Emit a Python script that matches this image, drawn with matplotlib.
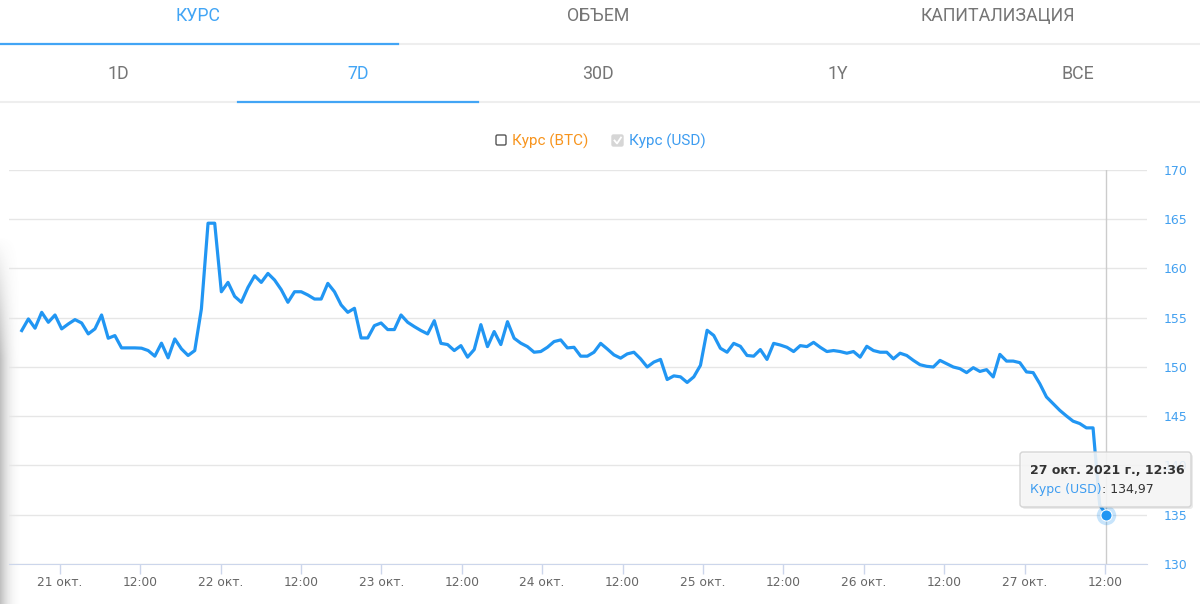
import numpy as np
import pandas as pd
import matplotlib.pyplot as plt
from matplotlib.patches import FancyBboxPatch
from matplotlib.lines import Line2D

plt.rcParams['font.family'] = ['Roboto', 'DejaVu Sans']

# --- data ---
main_tabs = ['КУРС', 'ОБЪЕМ', 'КАПИТАЛИЗАЦИЯ']
period_tabs = ['1D', '7D', '30D', '1Y', 'ВСЕ']
series_names = ['Курс (BTC)', 'Курс (USD)']
start_time = '2021-10-20 18:20'
end_time = '2021-10-27 12:12'
usd_price = [
    153.7, 154.88, 153.94, 155.55, 154.54, 155.28, 153.87, 154.37, 154.81, 154.47,
    153.36, 153.87, 155.28, 152.92, 153.19, 151.94, 151.94, 151.94, 151.91, 151.67,
    151.1, 152.42, 150.93, 152.85, 151.84, 151.17, 151.67, 155.9, 164.6, 164.6,
    157.64, 158.59, 157.17, 156.57, 158.08, 159.26, 158.59, 159.5, 158.83, 157.85,
    156.57, 157.64, 157.64, 157.31, 156.9, 156.9, 158.49, 157.64, 156.3, 155.55,
    155.96, 152.95, 152.95, 154.2, 154.47, 153.8, 153.8, 155.28, 154.54, 154.1,
    153.7, 153.36, 154.7, 152.4, 152.28, 151.67, 152.17, 151.0, 151.77, 154.3,
    152.07, 153.6, 152.28, 154.6, 152.92, 152.42, 152.07, 151.5, 151.57, 152.0,
    152.58, 152.75, 151.94, 152.0, 151.1, 151.1, 151.5, 152.4, 151.83, 151.23,
    150.9, 151.33, 151.5, 150.83, 150.0, 150.5, 150.77, 148.73, 149.1, 149.0,
    148.43, 149.0, 150.17, 153.73, 153.2, 151.9, 151.5, 152.4, 152.1, 151.17,
    151.1, 151.77, 150.77, 152.4, 152.23, 152.0, 151.57, 152.17, 152.07, 152.5,
    152.0, 151.57, 151.67, 151.57, 151.4, 151.57, 151.0, 152.1, 151.67, 151.5,
    151.5, 150.83, 151.4, 151.17, 150.67, 150.23, 150.07, 150.0, 150.67, 150.33,
    150.0, 149.83, 149.43, 149.93, 149.55, 149.73, 148.99, 151.28, 150.6, 150.6,
    150.44, 149.5, 149.43, 148.3, 146.96, 146.28, 145.6, 145.03, 144.5, 144.26,
    143.82, 143.82, 136.0, 134.97,
]
y_ticks = [130, 135, 140, 145, 150, 155, 160, 165, 170]
tick_days = [21, 22, 23, 24, 25, 26, 27]
tooltip_title = '27 окт. 2021 г., 12:36'
tooltip_value = '134,97'

BLUE = '#2196f3'
TAB_BLUE = '#42a5f5'
GRAY_TXT = '#757575'
HC_FONT = ['DejaVu Sans']

times = pd.date_range(start_time, end_time, periods=len(usd_price))

fig = plt.figure(figsize=(12, 6.04), dpi=100)
fig.patch.set_facecolor('white')

# background overlay in pixel coords (tabs, legend, left shadow)
back = fig.add_axes([0, 0, 1, 1], zorder=0)
gx = np.linspace(0, 1, 40)
gy = np.linspace(0, 1, 120)
rgba = np.zeros((120, 40, 4))
rgba[..., :3] = 0.45
rgba[..., 3] = np.outer(np.clip(gy * 3, 0, 1), (1 - gx) ** 2.5) * 0.45
back.imshow(rgba, extent=(0, 24, 604, 235), aspect='auto', interpolation='bilinear')
back.set_xlim(0, 1200)
back.set_ylim(604, 0)
back.axis('off')

# top tabs
back.add_line(Line2D([0, 1200], [44, 44], color='#eeeeee', lw=1.5))
back.add_line(Line2D([0, 398], [44, 44], color=TAB_BLUE, lw=1.6))
for i, name in enumerate(main_tabs):
    back.text(198 + i * 400, 16, name, ha='center', va='center', fontsize=12.8,
              color=TAB_BLUE if i == 0 else GRAY_TXT)
back.add_line(Line2D([0, 1200], [101.5, 101.5], color='#eeeeee', lw=1.5))
back.add_line(Line2D([238, 478], [101.5, 101.5], color=TAB_BLUE, lw=1.6))
for i, name in enumerate(period_tabs):
    back.text(118 + i * 240, 74, name, ha='center', va='center', fontsize=12.8,
              color=TAB_BLUE if i == 1 else GRAY_TXT)

# legend
back.add_patch(FancyBboxPatch((496, 135), 10, 10, boxstyle='round,pad=0,rounding_size=1.5',
                              fc='white', ec='#555555', lw=1))
back.text(512, 141, series_names[0], ha='left', va='center', fontsize=11, color='#f7941d')
back.add_patch(FancyBboxPatch((612, 135), 11, 11, boxstyle='round,pad=0,rounding_size=1.5',
                              fc='#d6d6d6', ec='#d6d6d6', lw=1))
back.add_line(Line2D([614.5, 617, 621], [140.5, 143.5, 137.5], color='white', lw=1.3))
back.text(629, 141, series_names[1], ha='left', va='center', fontsize=11, color='#3d9cf0')

# chart
ax = fig.add_axes([9 / 1200, 40 / 604, (1147 - 9) / 1200, (564 - 170) / 604], zorder=1)
ax.set_facecolor('none')
ax.plot(times, usd_price, color=BLUE, lw=2.3, solid_joinstyle='round', zorder=3)
ax.axvline(times[-1], color='#cccccc', lw=1, zorder=2)
ax.plot(times[-1], usd_price[-1], 'o', ms=14, color=BLUE, alpha=0.25, mec='none', zorder=4)
ax.plot(times[-1], usd_price[-1], 'o', ms=8, color=BLUE, mec='white', mew=0.8, zorder=5)

ax.set_xlim(pd.Timestamp('2021-10-20 16:26'), pd.Timestamp('2021-10-27 18:16'))
ax.set_ylim(y_ticks[0], y_ticks[-1])
ax.set_yticks(y_ticks)
ax.yaxis.tick_right()
ax.tick_params(axis='y', length=0, pad=12, labelsize=9, labelcolor='#42a0f0')
ax.grid(axis='y', color='#e6e6e6', lw=1)
ax.set_axisbelow(True)

xt, xl = [], []
for d in tick_days:
    xt += [pd.Timestamp(f'2021-10-{d} 00:00'), pd.Timestamp(f'2021-10-{d} 12:00')]
    xl += [f'{d} окт.', '12:00']
ax.set_xticks(xt)
ax.set_xticklabels(xl)
ax.tick_params(axis='x', length=7, width=1, color='#ccd6eb', pad=2, labelsize=8.8,
               labelcolor='#666666')
for lab in ax.get_xticklabels() + ax.get_yticklabels():
    lab.set_family(HC_FONT)
for s in ['top', 'left', 'right']:
    ax.spines[s].set_visible(False)
ax.spines['bottom'].set_color('#ccd6eb')

# tooltip overlay
front = fig.add_axes([0, 0, 1, 1], zorder=2)
front.set_xlim(0, 1200)
front.set_ylim(604, 0)
front.axis('off')
front.add_patch(FancyBboxPatch((1022, 454), 171, 55, boxstyle='round,pad=0,rounding_size=3',
                               fc='black', ec='none', alpha=0.08))
front.add_patch(FancyBboxPatch((1020, 452), 171, 55, boxstyle='round,pad=0,rounding_size=3',
                               fc='#f7f7f7', ec='#d0d0d0', lw=1, alpha=0.88))
front.text(1030, 470, tooltip_title, ha='left', va='center', fontsize=9,
           fontweight='bold', color='#333333', family=HC_FONT)
name_txt = front.text(1030, 489, series_names[1], ha='left', va='center', fontsize=9,
                      color='#3d9cf0', family=HC_FONT)
front.annotate(': ' + tooltip_value, xy=(1, 0.5), xycoords=name_txt, va='center',
               ha='left', fontsize=9, color='#333333', family=HC_FONT)

fig.savefig('out.png', dpi=100, facecolor='white')
